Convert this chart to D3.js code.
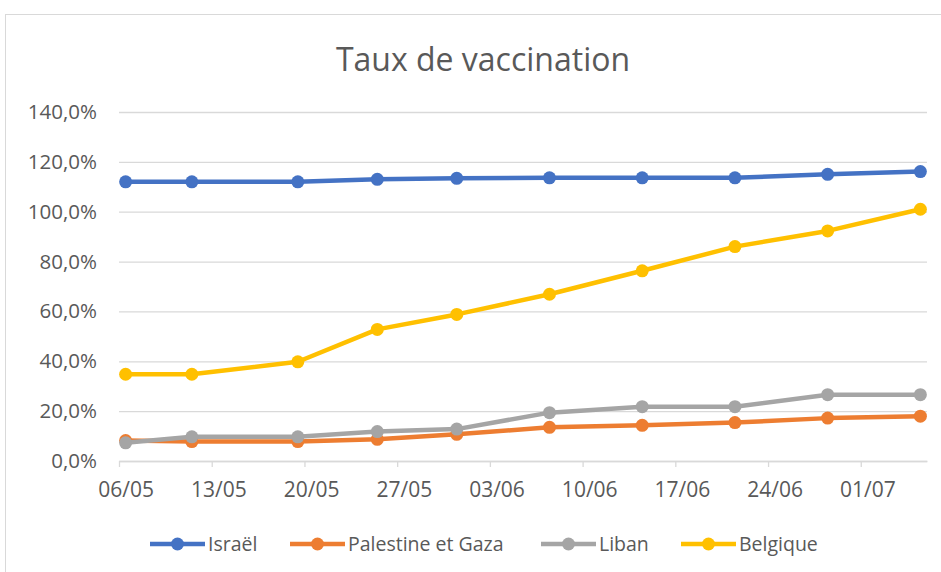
<!DOCTYPE html>
<html><head><meta charset="utf-8">
<script src="https://cdn.jsdelivr.net/npm/d3@7"></script>
<style>body{margin:0;background:#fff;} svg{display:block;font-family:"Open Sans",sans-serif;}</style>
</head><body><svg id="c" width="941" height="572"></svg>
<script>
const dates = ["2021-05-06","2021-05-11","2021-05-19","2021-05-25","2021-05-31","2021-06-07","2021-06-14","2021-06-21","2021-06-28","2021-07-05"];
const seriesNames = ["Israël","Palestine et Gaza","Liban","Belgique"];
const israel    = [112.0,112.0,112.0,113.0,113.4,113.6,113.6,113.6,115.0,116.1];
const palestine = [8.2,7.8,7.8,8.7,10.7,13.5,14.3,15.4,17.2,18.0];
const liban     = [7.3,9.7,9.7,11.8,12.8,19.4,21.8,21.8,26.6,26.6];
const belgique  = [34.8,34.8,39.8,52.8,58.8,66.9,76.3,86.0,92.3,101.0];
const colors = ["#4472C4","#ED7D31","#A5A5A5","#FFC000"];
const xTickLabels = ["06/05","13/05","20/05","27/05","03/06","10/06","17/06","24/06","01/07"];
const yTicks = [0,20,40,60,80,100,120,140];

const parse = d3.timeParse("%Y-%m-%d");
const svg = d3.select("#c");
const L = 119, R = 927, T = 112, B = 461;
const x = d3.scaleTime().domain([parse("2021-05-06"), parse("2021-07-06")]).range([L, R]);
const halfDay = (x(parse("2021-05-07")) - x(parse("2021-05-06"))) / 2;
const y = d3.scaleLinear().domain([0, 140]).range([B, T]);
const locale = d3.formatLocale({decimal: ",", thousands: " ", grouping: [3], currency: ["", "€"]});
const fmt = locale.format(".1f");

// border
svg.append("rect").attr("x", 5.5).attr("y", 14.5).attr("width", 960).attr("height", 600)
  .attr("fill", "none").attr("stroke", "#d9d9d9").attr("stroke-width", 1);

// title
svg.append("text").attr("x", 483).attr("y", 71).attr("text-anchor", "middle")
  .attr("font-size", 32).attr("fill", "#595959").text("Taux de vaccination");

// gridlines + y labels
const yAxis = d3.axisLeft(y).tickValues(yTicks).tickSize(-(R - L)).tickPadding(22)
  .tickFormat(d => fmt(d) + "%");
const gy = svg.append("g").attr("transform", `translate(${L},0)`).call(yAxis);
gy.select(".domain").remove();
gy.selectAll("line").attr("stroke", "#d9d9d9").attr("stroke-width", 1.3);
gy.selectAll("text").attr("fill", "#595959").attr("font-size", 20.5).attr("font-family", "Open Sans");

// x axis
const xTickDates = xTickLabels.map(s => d3.timeParse("%d/%m/%Y")(s + "/2021"));
const xAxis = d3.axisBottom(x).tickValues(xTickDates).tickSize(6).tickSizeOuter(0)
  .tickFormat((d, i) => xTickLabels[i]);
const gx = svg.append("g").attr("transform", `translate(0,${B})`).call(xAxis);
gx.select(".domain").attr("stroke", "#d9d9d9").attr("stroke-width", 1.3);
gx.selectAll("line").attr("stroke", "#d9d9d9").attr("stroke-width", 1.3);
gx.selectAll("text").attr("fill", "#595959").attr("font-size", 21).attr("font-family", "Open Sans")
  .attr("x", halfDay).attr("dy", "0").attr("y", 36);

// series
const allSeries = [israel, palestine, liban, belgique];
const pts = dates.map(parse);
const line = d3.line().x(d => x(d[0]) + halfDay).y(d => y(d[1]));
allSeries.forEach((vals, si) => {
  const data = pts.map((d, i) => [d, vals[i]]);
  const g = svg.append("g");
  g.append("path").datum(data).attr("d", line).attr("fill", "none")
    .attr("stroke", colors[si]).attr("stroke-width", 4.5).attr("stroke-linejoin", "round").attr("stroke-linecap", "round");
  g.selectAll("circle").data(data).join("circle")
    .attr("cx", d => x(d[0]) + halfDay).attr("cy", d => y(d[1])).attr("r", 6.5).attr("fill", colors[si]);
});

// legend
const legX = [150, 290, 541, 681];
const lg = svg.append("g");
seriesNames.forEach((n, i) => {
  const g = lg.append("g").attr("transform", `translate(${legX[i]},544)`);
  g.append("line").attr("x1", 0).attr("x2", 55).attr("stroke", colors[i]).attr("stroke-width", 4.5);
  g.append("circle").attr("cx", 27.5).attr("r", 6.5).attr("fill", colors[i]);
  g.append("text").attr("x", 58).attr("y", 7).attr("font-size", 19.5).attr("fill", "#595959").text(n);
});
</script></body></html>
